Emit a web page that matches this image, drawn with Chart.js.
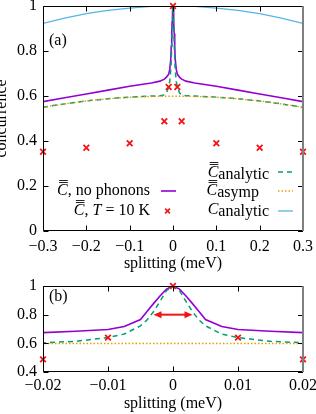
<!DOCTYPE html>
<html lang="en">
<head>
<meta charset="UTF-8">
<title>Concurrence vs splitting</title>
<script src="https://cdn.jsdelivr.net/npm/chart.js"></script>
<style>
  body { margin: 0; background: #fff; }
  canvas { display: block; }
</style>
</head>
<body>
<canvas id="chartA" width="316" height="276"></canvas>
<canvas id="chartB" width="316" height="138"></canvas>
<script>
// splitting (meV) where the curves are sampled
const splitting = [-0.3, -0.25, -0.2, -0.15, -0.1, -0.05, -0.03, -0.02, -0.015, -0.01, -0.0075, -0.005, -0.004, -0.003, -0.002, -0.001,
  0, 0.001, 0.002, 0.003, 0.004, 0.005, 0.0075, 0.01, 0.015, 0.02, 0.03, 0.05, 0.1, 0.15, 0.2, 0.25, 0.3];
// C bar bar, no phonons (purple)
const noPhonons = [0.575, 0.592, 0.609, 0.626, 0.643, 0.658, 0.666, 0.675, 0.684, 0.697, 0.718, 0.766, 0.822, 0.877, 0.930, 0.978,
  1.0, 0.978, 0.930, 0.877, 0.822, 0.766, 0.718, 0.697, 0.684, 0.675, 0.666, 0.658, 0.643, 0.626, 0.609, 0.592, 0.575];
// C bar bar analytic (green dashed)
const analyticBar = [0.550, 0.565, 0.578, 0.588, 0.595, 0.600, 0.601, 0.604, 0.614, 0.640, 0.665, 0.722, 0.763, 0.820, 0.893, 0.967,
  1.0, 0.967, 0.893, 0.820, 0.763, 0.722, 0.665, 0.640, 0.614, 0.604, 0.601, 0.600, 0.595, 0.588, 0.578, 0.565, 0.550];
// C bar bar asymp (orange dotted)
const asympBar = [0.550, 0.565, 0.578, 0.588, 0.594, 0.598, 0.599, 0.599, 0.599, 0.599, 0.599, 0.599, 0.599, 0.599, 0.599, 0.599,
  0.599, 0.599, 0.599, 0.599, 0.599, 0.599, 0.599, 0.599, 0.599, 0.599, 0.599, 0.598, 0.594, 0.588, 0.578, 0.565, 0.550];
// C analytic (light blue)
const analytic = [0.923, 0.946, 0.966, 0.981, 0.991, 0.998, 0.999, 1.0, 1.0, 1.0, 1.0, 1.0, 1.0, 1.0, 1.0, 1.0,
  1.0, 1.0, 1.0, 1.0, 1.0, 1.0, 1.0, 1.0, 1.0, 1.0, 0.999, 0.998, 0.991, 0.981, 0.966, 0.946, 0.923];
// C bar bar, T = 10 K (red crosses)
const t10Split = [-0.3, -0.2, -0.1, -0.02, -0.01, 0, 0.01, 0.02, 0.1, 0.2, 0.3];
const t10Conc = [0.352, 0.370, 0.390, 0.488, 0.640, 1.0, 0.640, 0.488, 0.390, 0.370, 0.352];
// double arrow in panel (b)
const arrowSplit = [-0.003, 0.003];
const arrowConc = 0.8;
// tick values
const xTicksA = [-0.3, -0.2, -0.1, 0, 0.1, 0.2, 0.3];
const yTicksA = [0, 0.2, 0.4, 0.6, 0.8, 1];
const xTicksB = [-0.02, -0.01, 0, 0.01, 0.02];
const yTicksB = [0.4, 0.6, 0.8, 1];

const FONT = 'Liberation Serif';
const PURPLE = '#9400d3', GREEN = '#009e73', ORANGE = '#e69f00', BLUE = '#56b4e9', RED = '#f01414';

Chart.defaults.font.family = FONT;
Chart.defaults.font.size = 16;
Chart.defaults.color = '#000';

function fmt(v) {
  return String(Math.round(v * 1000) / 1000).replace('-', '\u2212');
}

function pts(xs, ys, keep) {
  const out = [];
  xs.forEach((x, i) => { if (!keep || keep(x)) out.push({x: x, y: ys[i]}); });
  return out;
}

function makeDatasets(keep) {
  return [
    {label: 'T10', data: pts(t10Split, t10Conc, keep), showLine: false, pointStyle: 'crossRot',
     pointRadius: 4, pointBorderWidth: 1.8, borderColor: RED, backgroundColor: RED, clip: false, order: 0},
    {label: 'analytic', data: pts(splitting, analytic), showLine: true, pointRadius: 0,
     borderColor: BLUE, borderWidth: 1.3, order: 1},
    {label: 'asymp', data: pts(splitting, asympBar), showLine: true, pointRadius: 0,
     borderColor: ORANGE, borderWidth: 1.4, borderDash: [1.5, 2], order: 2},
    {label: 'analyticBar', data: pts(splitting, analyticBar), showLine: true, pointRadius: 0,
     borderColor: GREEN, borderWidth: 1.5, borderDash: [5, 4], order: 3},
    {label: 'noPhonons', data: pts(splitting, noPhonons), showLine: true, pointRadius: 0,
     borderColor: PURPLE, borderWidth: 1.6, order: 4}
  ];
}

// border with inward ticks on all four sides
const framePlugin = {
  id: 'frame',
  afterDatasetsDraw(chart) {
    const {ctx, chartArea: a, scales: {x, y}} = chart;
    const L = Math.round(a.left) + 0.5, T = Math.round(a.top) + 0.5, B = Math.round(a.bottom) - 0.5, R = a.right;
    ctx.save();
    ctx.strokeStyle = '#000';
    ctx.lineWidth = 1;
    ctx.beginPath();
    x.ticks.forEach(t => {
      const p = Math.round(x.getPixelForValue(t.value)) + 0.5;
      ctx.moveTo(p, B); ctx.lineTo(p, B - 5);
      ctx.moveTo(p, T); ctx.lineTo(p, T + 5);
    });
    y.ticks.forEach(t => {
      const p = Math.round(y.getPixelForValue(t.value)) + 0.5;
      ctx.moveTo(L, p); ctx.lineTo(L + 5, p);
      ctx.moveTo(R, p); ctx.lineTo(R - 5, p);
    });
    ctx.moveTo(R, T); ctx.lineTo(L, T); ctx.lineTo(L, B); ctx.lineTo(R, B);
    ctx.stroke();
    ctx.strokeStyle = '#808080';
    ctx.lineWidth = 2;
    ctx.beginPath();
    ctx.moveTo(R, a.top); ctx.lineTo(R, a.bottom);
    ctx.stroke();
    ctx.restore();
  }
};

// text with italic C, double overline and subscripts
function mathText(ctx, parts, right, base) {
  let w = 0;
  parts.forEach(p => {
    ctx.font = (p.it ? 'italic ' : '') + '16px "' + FONT + '"';
    p.w = ctx.measureText(p.t).width;
    w += p.w;
  });
  let x = right - w;
  parts.forEach(p => {
    ctx.font = (p.it ? 'italic ' : '') + '16px "' + FONT + '"';
    ctx.fillStyle = '#000';
    ctx.fillText(p.t, x, base + (p.sub ? 2 : 0));
    for (let k = 0; k < (p.bars || 0); k++) {
      ctx.fillStyle = '#222';
      ctx.fillRect(x + 2, Math.round(base - 13 - 2 * k), p.w - 2, 1);
    }
    x += p.w;
  });
}

const legendPlugin = {
  id: 'keyA',
  afterDraw(chart) {
    const ctx = chart.ctx;
    ctx.save();
    ctx.textAlign = 'left';
    ctx.textBaseline = 'alphabetic';
    // left column
    mathText(ctx, [{t: 'C', it: true, bars: 2}, {t: ', no phonons'}], 150, 195);
    mathText(ctx, [{t: 'C', it: true, bars: 2}, {t: ', '}, {t: 'T', it: true}, {t: ' = 10 K'}], 150, 215);
    // right column
    mathText(ctx, [{t: 'C', it: true, bars: 2}, {t: 'analytic', sub: true}], 269, 177);
    mathText(ctx, [{t: 'C', it: true, bars: 2}, {t: 'asymp', sub: true}], 259, 195);
    mathText(ctx, [{t: 'C', it: true}, {t: 'analytic', sub: true}], 269, 214);

    const line = (x1, x2, yy, col, w, dash) => {
      ctx.beginPath();
      ctx.strokeStyle = col;
      ctx.lineWidth = w;
      ctx.setLineDash(dash);
      ctx.moveTo(x1, yy); ctx.lineTo(x2, yy);
      ctx.stroke();
    };
    line(161, 176, 191, PURPLE, 1.6, []);
    line(278, 293, 172, GREEN, 1.5, [5, 4]);
    line(278, 293, 191, ORANGE, 1.4, [1.5, 2]);
    line(278, 293, 211, BLUE, 1.3, []);
    ctx.setLineDash([]);
    ctx.strokeStyle = RED;
    ctx.lineWidth = 1.6;
    ctx.beginPath();
    ctx.moveTo(167.5 - 2.4, 211 - 2.4); ctx.lineTo(167.5 + 2.4, 211 + 2.4);
    ctx.moveTo(167.5 + 2.4, 211 - 2.4); ctx.lineTo(167.5 - 2.4, 211 + 2.4);
    ctx.stroke();
    ctx.restore();
  }
};

function panelLabel(text, x, base) {
  return {
    id: 'panel' + text,
    afterDraw(chart) {
      const ctx = chart.ctx;
      ctx.save();
      ctx.font = '16px "' + FONT + '"';
      ctx.fillStyle = '#000';
      ctx.textAlign = 'left';
      ctx.textBaseline = 'alphabetic';
      ctx.fillText(text, x, base);
      ctx.restore();
    }
  };
}

const arrowPlugin = {
  id: 'arrow',
  afterDatasetsDraw(chart) {
    const {ctx, scales: {x, y}} = chart;
    const x1 = x.getPixelForValue(arrowSplit[0]);
    const x2 = x.getPixelForValue(arrowSplit[1]);
    const yy = y.getPixelForValue(arrowConc);
    ctx.save();
    ctx.strokeStyle = RED;
    ctx.fillStyle = RED;
    ctx.lineWidth = 2;
    ctx.beginPath();
    ctx.moveTo(x1 + 5, yy); ctx.lineTo(x2 - 5, yy);
    ctx.stroke();
    ctx.beginPath();
    ctx.moveTo(x1, yy); ctx.lineTo(x1 + 8, yy - 3.5); ctx.lineTo(x1 + 8, yy + 3.5); ctx.closePath();
    ctx.moveTo(x2, yy); ctx.lineTo(x2 - 8, yy - 3.5); ctx.lineTo(x2 - 8, yy + 3.5); ctx.closePath();
    ctx.fill();
    ctx.restore();
  }
};

function scales(xr, yr, xt, yt, xHeight, xPad, titlePad, yTitle) {
  return {
    x: {
      type: 'linear', min: xr[0], max: xr[1],
      grid: {display: false, drawTicks: false}, border: {display: false},
      afterBuildTicks: s => { s.ticks = xt.map(v => ({value: v})); },
      afterFit: s => { s.height = xHeight; s.paddingLeft = 0; s.paddingRight = 0; },
      ticks: {padding: xPad, maxRotation: 0, autoSkip: false, callback: v => fmt(v)},
      title: {display: true, text: 'splitting (meV)', padding: {top: 0, bottom: titlePad}}
    },
    y: {
      type: 'linear', min: yr[0], max: yr[1],
      grid: {display: false, drawTicks: false}, border: {display: false},
      afterBuildTicks: s => { s.ticks = yt.map(v => ({value: v})); },
      afterFit: s => { s.width = 43; s.paddingTop = 0; s.paddingBottom = 0; },
      ticks: {padding: 6, callback: v => fmt(v)},
      title: {display: yTitle, text: 'concurrence', padding: 0, font: {size: 16, lineHeight: 0.2}}
    }
  };
}

new Chart(document.getElementById('chartA'), {
  type: 'scatter',
  data: {datasets: makeDatasets(null)},
  options: {
    responsive: false, animation: false,
    layout: {padding: {left: 0, right: 13, top: 6, bottom: 0}},
    plugins: {legend: {display: false}, tooltip: {enabled: false}},
    scales: scales([-0.3, 0.3], [0, 1], xTicksA, yTicksA, 45, 6, 3, true)
  },
  plugins: [framePlugin, legendPlugin, panelLabel('(a)', 49, 45)]
});

new Chart(document.getElementById('chartB'), {
  type: 'scatter',
  data: {datasets: makeDatasets(v => Math.abs(v) <= 0.0201)},
  options: {
    responsive: false, animation: false,
    layout: {padding: {left: 0, right: 13, top: 10, bottom: 0}},
    plugins: {legend: {display: false}, tooltip: {enabled: false}},
    scales: scales([-0.02, 0.02], [0.4, 1], xTicksB, yTicksB, 42, 4, 1, false)
  },
  plugins: [framePlugin, arrowPlugin, panelLabel('(b)', 49, 25)]
});
</script>
</body>
</html>
